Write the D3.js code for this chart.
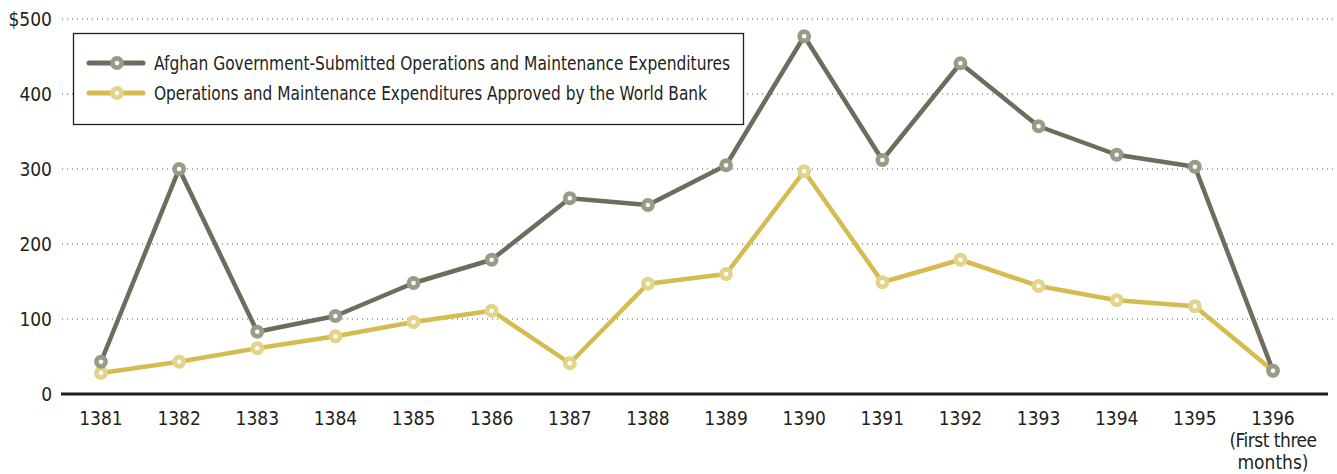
<!DOCTYPE html>
<html><head><meta charset="utf-8">
<script src="https://cdn.jsdelivr.net/npm/d3@7"></script>
<style>
body{margin:0;background:#fff;}
text{font-family:"DejaVu Sans Condensed","Liberation Sans Narrow",sans-serif;font-stretch:condensed;fill:#231f20;}
</style></head>
<body><svg id="c" width="1337" height="474"></svg>
<script>
const years = ["1381","1382","1383","1384","1385","1386","1387","1388","1389","1390","1391","1392","1393","1394","1395","1396"];
const submitted = [43,300,83,104,148,179,261,252,305,477,312,441,357,319,303,31];
const approved = [28,43,61,77,96,111,41,147,160,297,149,179,144,125,117,31];
const yTicks = [0,100,200,300,400,500];
const yTickLabels = ["0","100","200","300","400","$500"];
const seriesNames = ["Afghan Government-Submitted Operations and Maintenance Expenditures","Operations and Maintenance Expenditures Approved by the World Bank"];

const svg = d3.select("#c");
const x = d3.scalePoint().domain(years).range([101,1273]);
const y = d3.scaleLinear().domain([0,500]).range([394,19]);

svg.append("g").selectAll("line").data(yTicks.filter(d=>d>0)).join("line")
  .attr("x1",62).attr("x2",1337).attr("y1",d=>y(d)).attr("y2",d=>y(d))
  .attr("stroke","#555").attr("stroke-width",1).attr("stroke-dasharray","1,4");

svg.append("g").selectAll("text").data(yTicks).join("text")
  .attr("x",52).attr("y",d=>y(d)+7).attr("text-anchor","end").attr("font-size",19)
  .text((d,i)=>yTickLabels[i]);

svg.append("line").attr("x1",61).attr("x2",1328).attr("y1",394).attr("y2",394)
  .attr("stroke","#231f20").attr("stroke-width",3);

const xl = svg.append("g");
xl.selectAll("text").data(years).join("text")
  .attr("x",d=>x(d)).attr("y",425).attr("text-anchor","middle").attr("font-size",19).text(d=>d);
xl.append("text").attr("x",x("1396")).attr("y",447).attr("text-anchor","middle").attr("font-size",19).attr("letter-spacing",-0.5).text("(First three");
xl.append("text").attr("x",x("1396")).attr("y",469).attr("text-anchor","middle").attr("font-size",19).text("months)");

const series = [
  {vals:submitted, line:"#6d6d5d", mark:"#9b9a87"},
  {vals:approved, line:"#d5bb50", mark:"#e3d38b"}
];
const lineGen = d3.line().x((d,i)=>x(years[i])).y(d=>y(d));
[1,0].forEach(k=>{
  const s = series[k];
  svg.append("path").attr("d",lineGen(s.vals)).attr("fill","none")
    .attr("stroke",s.line).attr("stroke-width",4.5).attr("stroke-linejoin","round");
});
[1,0].forEach(k=>{
  const s = series[k];
  svg.append("g").selectAll("circle").data(s.vals).join("circle")
    .attr("cx",(d,i)=>x(years[i])).attr("cy",d=>y(d)).attr("r",4.6)
    .attr("fill","#fff").attr("stroke",s.mark).attr("stroke-width",4.6);
});

const lg = svg.append("g");
lg.append("rect").attr("x",73.5).attr("y",33.5).attr("width",670).attr("height",91)
  .attr("fill","#fff").attr("stroke","#231f20").attr("stroke-width",1.3);
const legendWidths = [576, 553];
seriesNames.forEach((n,i)=>{
  const yy = 63 + i*30;
  lg.append("line").attr("x1",89).attr("x2",143).attr("y1",yy).attr("y2",yy)
    .attr("stroke",series[i].line).attr("stroke-width",5).attr("stroke-linecap","round");
  lg.append("circle").attr("cx",117).attr("cy",yy).attr("r",4.6).attr("fill","#fff")
    .attr("stroke",series[i].mark).attr("stroke-width",4.6);
  lg.append("text").attr("x",154).attr("y",yy+7).attr("font-size",19)
    .attr("textLength",legendWidths[i]).attr("lengthAdjust","spacingAndGlyphs").text(n);
});
</script></body></html>
